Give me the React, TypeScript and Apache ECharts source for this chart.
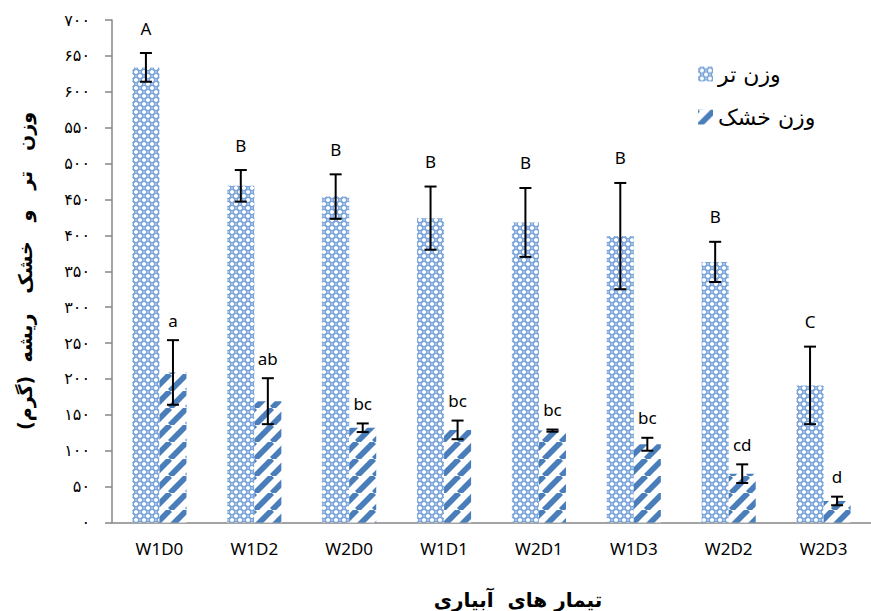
import React, { useEffect, useRef } from 'react';
import * as echarts from 'echarts';

// ---- Data ----
const categories = ['W1D0', 'W1D2', 'W2D0', 'W1D1', 'W2D1', 'W1D3', 'W2D2', 'W2D3'];
const freshName = 'وزن تر';
const dryName = 'وزن خشک';
const freshValues = [634, 469, 454, 424, 418, 399, 363, 191];
const freshErrors = [20, 22, 31, 44, 48, 74, 28, 54];
const freshLetters = ['A', 'B', 'B', 'B', 'B', 'B', 'B', 'C'];
const dryValues = [209, 169, 132, 129, 128, 109, 68, 30];
const dryErrors = [45, 32, 6, 13, 1.5, 9, 13, 6];
const dryLetters = ['a', 'ab', 'bc', 'bc', 'bc', 'bc', 'cd', 'd'];
const yMin = 0;
const yMax = 700;
const yInterval = 50;
const yTitle = 'وزن   تر   و   خشک   ریشه  (گرم)';
const xTitle = 'تیمار های  آبیاری';

const BAR_CATEGORY_GAP = 0.43;

function toPersianDigits(v: number): string {
  return String(v).replace(/\d/g, (d) => '۰۱۲۳۴۵۶۷۸۹'[Number(d)]);
}

function crossPattern() {
  const s = 8;
  const c = document.createElement('canvas');
  c.width = s;
  c.height = s;
  const ctx = c.getContext('2d')!;
  ctx.fillStyle = '#ffffff';
  ctx.fillRect(0, 0, s, s);
  ctx.strokeStyle = '#7BA4D9';
  ctx.lineWidth = 1.4;
  const centers = [[0, 0], [s, 0], [0, s], [s, s], [s / 2, s / 2]];
  for (const [cx, cy] of centers) {
    ctx.beginPath();
    ctx.arc(cx, cy, 2.8, 0, Math.PI * 2);
    ctx.stroke();
  }
  return { image: c, repeat: 'repeat', imageWidth: s, imageHeight: s };
}

function stripePattern() {
  const s = 17;
  const c = document.createElement('canvas');
  c.width = s;
  c.height = s;
  const ctx = c.getContext('2d')!;
  ctx.fillStyle = '#ffffff';
  ctx.fillRect(0, 0, s, s);
  ctx.strokeStyle = '#4A7EBB';
  ctx.lineWidth = 5.8;
  for (const k of [-s, 0, s]) {
    ctx.beginPath();
    ctx.moveTo(k, s);
    ctx.lineTo(k + s, 0);
    ctx.stroke();
  }
  return { image: c, repeat: 'repeat', imageWidth: s, imageHeight: s };
}

function errorSeries(values: number[], errors: number[], letters: string[], side: number, labelGap: number) {
  return {
    type: 'custom',
    silent: true,
    z: 5,
    encode: { x: 0, y: 1 },
    data: values.map((v, i) => [i, v, errors[i]]),
    renderItem: (params: any, api: any) => {
      const ci = api.value(0);
      const mean = api.value(1);
      const err = api.value(2);
      const band = api.size([1, 0])[0];
      const barW = (band * (1 - BAR_CATEGORY_GAP)) / 2;
      const top = api.coord([ci, mean + err]);
      const bot = api.coord([ci, mean - err]);
      const x = top[0] + side * barW / 2;
      const cap = 6;
      const ls = { stroke: '#000', lineWidth: 2 };
      return {
        type: 'group',
        children: [
          { type: 'line', shape: { x1: x, y1: top[1], x2: x, y2: bot[1] }, style: ls },
          { type: 'line', shape: { x1: x - cap, y1: top[1], x2: x + cap, y2: top[1] }, style: ls },
          { type: 'line', shape: { x1: x - cap, y1: bot[1], x2: x + cap, y2: bot[1] }, style: ls },
          {
            type: 'text',
            x: x,
            y: top[1] - labelGap,
            style: {
              text: letters[params.dataIndex],
              fill: '#000',
              font: '17px "Noto Sans"',
              textAlign: 'center',
              textVerticalAlign: 'middle',
              verticalAlign: 'middle',
            },
          },
        ],
      };
    },
  };
}

export default function App() {
  const ref = useRef<HTMLDivElement>(null);

  useEffect(() => {
    if (!ref.current) return;
    const chart = echarts.init(ref.current, null, { renderer: 'svg' });
    const fresh = crossPattern();
    const dry = stripePattern();
    const axisColor = '#868686';

    const option: any = {
      animation: false,
      backgroundColor: '#ffffff',
      grid: { left: 112, right: -8, top: 20, bottom: 88.5, containLabel: false },
      legend: {
        orient: 'vertical',
        left: 693,
        top: 58,
        itemWidth: 15,
        itemHeight: 15,
        itemGap: 21,
        icon: 'rect',
        data: [freshName, dryName],
        textStyle: { fontFamily: 'DejaVu Sans', fontSize: 22, color: '#000', padding: [0, 0, 0, 0] },
      },
      xAxis: {
        type: 'category',
        data: categories,
        axisLine: { lineStyle: { color: axisColor, width: 1.5 } },
        axisTick: { show: false },
        axisLabel: { color: '#000', fontFamily: 'Noto Sans', fontSize: 17, margin: 17 },
        splitLine: { show: false },
      },
      yAxis: {
        type: 'value',
        min: yMin,
        max: yMax,
        interval: yInterval,
        splitLine: { show: false },
        axisLine: { show: true, lineStyle: { color: axisColor, width: 1.5 } },
        axisTick: { show: true, length: 7, lineStyle: { color: axisColor, width: 1.5 } },
        axisLabel: {
          formatter: (v: number) => toPersianDigits(v),
          fontFamily: 'DejaVu Sans',
          fontSize: 16,
          color: '#000',
          margin: 22,
        },
      },
      series: [
        {
          name: freshName,
          type: 'bar',
          data: freshValues,
          barGap: '0%',
          barCategoryGap: BAR_CATEGORY_GAP * 100 + '%',
          itemStyle: { color: fresh },
          emphasis: { disabled: true },
        },
        {
          name: dryName,
          type: 'bar',
          data: dryValues,
          barGap: '0%',
          barCategoryGap: BAR_CATEGORY_GAP * 100 + '%',
          itemStyle: { color: dry },
          emphasis: { disabled: true },
        },
        errorSeries(freshValues, freshErrors, freshLetters, -1, 25),
        errorSeries(dryValues, dryErrors, dryLetters, 1, 20),
      ],
      graphic: [
        {
          type: 'text',
          x: 25,
          y: 271,
          rotation: Math.PI / 2,
          style: {
            text: yTitle,
            fill: '#000',
            font: 'bold 19px "DejaVu Sans"',
            textAlign: 'center',
            textVerticalAlign: 'middle',
            verticalAlign: 'middle',
          },
        },
        {
          type: 'text',
          x: 518,
          y: 600,
          style: {
            text: xTitle,
            fill: '#000',
            font: 'bold 20px "DejaVu Sans"',
            textAlign: 'center',
            textVerticalAlign: 'middle',
            verticalAlign: 'middle',
          },
        },
      ],
    };

    chart.setOption(option);
    return () => chart.dispose();
  }, []);

  return (
    <div
      ref={ref}
      style={{ position: 'absolute', left: 0, top: 0, width: 871, height: 611 }}
    />
  );
}
